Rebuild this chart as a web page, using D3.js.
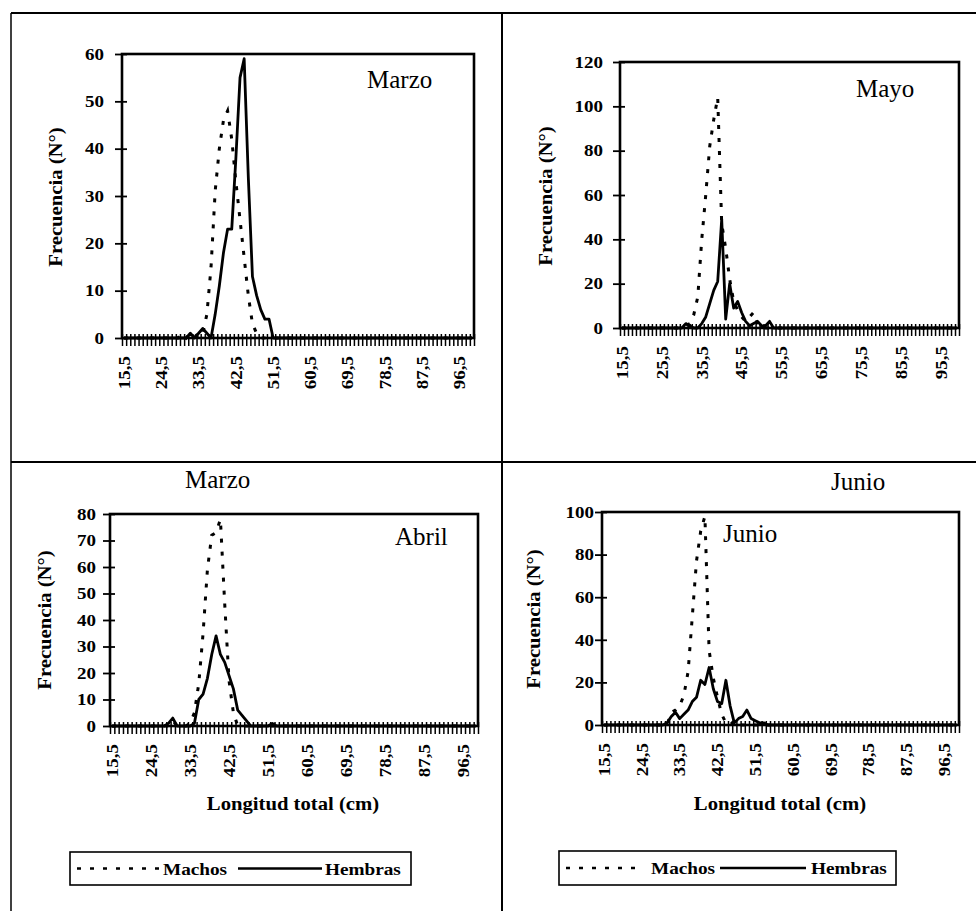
<!DOCTYPE html>
<html>
<head>
<meta charset="utf-8">
<script src="https://cdn.jsdelivr.net/npm/d3@7/dist/d3.min.js"></script>
<style>
  body { margin: 0; background: #fff; }
  svg { display: block; }
</style>
</head>
<body>
<svg id="chart" width="976" height="911"></svg>
<script>
// Length classes (cm), one category per centimetre: 15,5 ... 99,5
const lengths = d3.range(15.5, 100, 1);

// Tick labels shown on the length axis
const ticksEveryNine = [15.5, 24.5, 33.5, 42.5, 51.5, 60.5, 69.5, 78.5, 87.5, 96.5];
const ticksEveryTen = [15.5, 25.5, 35.5, 45.5, 55.5, 65.5, 75.5, 85.5, 95.5];

// Frequency (number of fish) per length class
const marzoMachos = [
  0,0,0,0,0,0,0,0,0,0,
  0,0,0,0,1,0,1,1,0,1,
  5,15,31,40,46,48,42,33,25,17,
  9,3,1,0,0,0,0,0,0,0,
  0,0,0,0,0,0,0,0,0,0,
  0,0,0,0,0,0,0,0,0,0,
  0,0,0,0,0,0,0,0,0,0,
  0,0,0,0,0,0,0,0,0,0,
  0,0,0,0,0
];
const marzoHembras = [
  0,0,0,0,0,0,0,0,0,0,
  0,0,0,0,0,0,1,0,1,2,
  1,0,5,11,18,23,23,38,55,59,
  34,13,9,6,4,4,0,0,0,0,
  0,0,0,0,0,0,0,0,0,0,
  0,0,0,0,0,0,0,0,0,0,
  0,0,0,0,0,0,0,0,0,0,
  0,0,0,0,0,0,0,0,0,0,
  0,0,0,0,0
];
const mayoMachos = [
  0,0,0,0,0,0,0,0,0,0,
  0,0,0,0,0,0,1,2,6,14,
  40,60,82,94,104,47,36,22,12,8,
  5,3,5,7,2,0,0,0,0,0,
  0,0,0,0,0,0,0,0,0,0,
  0,0,0,0,0,0,0,0,0,0,
  0,0,0,0,0,0,0,0,0,0,
  0,0,0,0,0,0,0,0,0,0,
  0,0,0,0,0
];
const mayoHembras = [
  0,0,0,0,0,0,0,0,0,0,
  0,0,0,0,0,0,2,1,0,0,
  2,5,11,17,21,49,4,20,9,12,
  7,3,1,2,3,1,1,3,0,0,
  0,0,0,0,0,0,0,0,0,0,
  0,0,0,0,0,0,0,0,0,0,
  0,0,0,0,0,0,0,0,0,0,
  0,0,0,0,0,0,0,0,0,0,
  0,0,0,0,0
];
const abrilMachos = [
  0,0,0,0,0,0,0,0,0,0,
  0,0,0,0,2,0,0,0,1,5,
  16,35,59,72,73,78,46,17,5,0,
  0,0,0,0,0,0,0,0,0,0,
  0,0,0,0,0,0,0,0,0,0,
  0,0,0,0,0,0,0,0,0,0,
  0,0,0,0,0,0,0,0,0,0,
  0,0,0,0,0,0,0,0,0,0,
  0,0,0,0,0
];
const abrilHembras = [
  0,0,0,0,0,0,0,0,0,0,
  0,0,0,1,3,0,0,0,0,1,
  10,12,18,27,34,27,24,19,14,6,
  4,2,0,0,0,0,0,1,0,0,
  0,0,0,0,0,0,0,0,0,0,
  0,0,0,0,0,0,0,0,0,0,
  0,0,0,0,0,0,0,0,0,0,
  0,0,0,0,0,0,0,0,0,0,
  0,0,0,0,0
];
const junioMachos = [
  0,0,0,0,0,0,0,0,0,0,
  0,0,0,0,0,0,6,7,9,14,
  25,51,77,91,98,35,22,13,5,1,
  0,2,0,0,0,0,0,0,0,0,
  0,0,0,0,0,0,0,0,0,0,
  0,0,0,0,0,0,0,0,0,0,
  0,0,0,0,0,0,0,0,0,0,
  0,0,0,0,0,0,0,0,0,0,
  0,0,0,0,0
];
const junioHembras = [
  0,0,0,0,0,0,0,0,0,0,
  0,0,0,0,0,1,4,6,3,5,
  7,11,13,21,19,27,17,11,10,21,
  9,1,3,4,7,3,2,1,1,0,
  0,0,0,0,0,0,0,0,0,0,
  0,0,0,0,0,0,0,0,0,0,
  0,0,0,0,0,0,0,0,0,0,
  0,0,0,0,0,0,0,0,0,0,
  0,0,0,0,0
];

const seriesNames = ["Machos", "Hembras"];
const yTitle = "Frecuencia (N°)";
const xTitle = "Longitud total (cm)";

const SERIF = "'Liberation Serif','Times New Roman',serif";
const S = 1.15;           // horizontal stretch of the bold serif lettering
const DOTS = "4,9";       // dotted pattern for the male series

const panels = [
  { machos: marzoMachos, hembras: marzoHembras, yMax: 60, yStep: 10, xTicks: ticksEveryNine,
    left: 122, right: 474, top: 54, bottom: 338, labelGap: 18, yTitleX: 62, yTitleY: 197,
    texts: [{ t: "Marzo", x: 367, y: 88 }], xTitle: false },
  { machos: mayoMachos, hembras: mayoHembras, yMax: 120, yStep: 20, xTicks: ticksEveryTen,
    left: 620, right: 959, top: 62, bottom: 328, labelGap: 17, yTitleX: 552, yTitleY: 196,
    texts: [{ t: "Mayo", x: 856, y: 97 }], xTitle: false },
  { machos: abrilMachos, hembras: abrilHembras, yMax: 80, yStep: 10, xTicks: ticksEveryNine,
    left: 110, right: 478, top: 514, bottom: 726, labelGap: 14, yTitleX: 51, yTitleY: 620,
    texts: [{ t: "Marzo", x: 185, y: 488 }, { t: "Abril", x: 395, y: 545 }], xTitle: true, xTitleX: 293,
    legend: { x: 70, y: 852, w: 341, h: 33, dot: [77, 160], solid: [238, 322], t1: 163, t2: 325 } },
  { machos: junioMachos, hembras: junioHembras, yMax: 100, yStep: 20, xTicks: ticksEveryNine,
    left: 602, right: 959, top: 512, bottom: 725, labelGap: 8, yTitleX: 540, yTitleY: 619,
    texts: [{ t: "Junio", x: 831, y: 490 }, { t: "Junio", x: 723, y: 542 }], xTitle: true, xTitleX: 780,
    legend: { x: 559, y: 851, w: 337, h: 34, dot: [566, 643], solid: [720, 806], t1: 651, t2: 811 } }
];

const svg = d3.select("#chart");

// Outer grid of the figure
const frame = svg.append("g").attr("stroke", "#000").attr("fill", "none");
frame.append("line").attr("x1", 11).attr("y1", 13).attr("x2", 976).attr("y2", 13).attr("stroke-width", 2);
frame.append("line").attr("x1", 11).attr("y1", 13).attr("x2", 11).attr("y2", 911).attr("stroke-width", 1.5);
frame.append("line").attr("x1", 502).attr("y1", 13).attr("x2", 502).attr("y2", 911).attr("stroke-width", 2);
frame.append("line").attr("x1", 11).attr("y1", 462).attr("x2", 976).attr("y2", 462).attr("stroke-width", 2);

const fmt = d => String(d).replace(".", ",");

function drawPanel(p) {
  const g = svg.append("g");
  const x = d3.scaleBand().domain(lengths).range([p.left, p.right]).padding(0);
  const xEdge = d3.scaleLinear().domain([0, lengths.length]).range([p.left, p.right]);
  const y = d3.scaleLinear().domain([0, p.yMax]).range([p.bottom, p.top]);
  const cx = v => x(v) + x.bandwidth() / 2;

  // category boundary ticks along the length axis
  const xt = g.append("g").attr("transform", `translate(0,${p.bottom})`)
    .call(d3.axisBottom(xEdge).tickValues(d3.range(lengths.length + 1)).tickFormat("")
      .tickSizeInner(8).tickSizeOuter(0));
  xt.select(".domain").remove();
  xt.selectAll(".tick line").attr("y1", -4).attr("stroke-width", 1.5);

  // rotated length labels
  const xl = g.append("g").attr("transform", `translate(0,${p.bottom})`)
    .call(d3.axisBottom(x).tickValues(p.xTicks).tickFormat(fmt).tickSize(0));
  xl.select(".domain").remove();
  xl.selectAll("text")
    .attr("x", 0).attr("y", 0).attr("dy", "0.35em")
    .attr("text-anchor", "end")
    .attr("transform", `translate(0,18) rotate(-90) scale(${S},1)`)
    .attr("font-family", SERIF).attr("font-weight", "bold").attr("font-size", 16.5).attr("fill", "#000");

  // frequency axis
  const ya = g.append("g").attr("transform", `translate(${p.left},0)`)
    .call(d3.axisLeft(y).tickValues(d3.range(0, p.yMax + 1, p.yStep)).tickSize(7).tickSizeOuter(0));
  ya.select(".domain").remove();
  ya.selectAll(".tick line").attr("x1", 5).attr("stroke-width", 1.8);
  ya.selectAll("text")
    .attr("x", -p.labelGap / S).attr("transform", `scale(${S},1)`)
    .attr("font-family", SERIF).attr("font-weight", "bold").attr("font-size", 16.5).attr("fill", "#000");

  // series
  const line = d3.line().x((d, i) => cx(lengths[i])).y(d => y(d));
  g.append("path").datum(p.machos).attr("d", line)
    .attr("fill", "none").attr("stroke", "#000").attr("stroke-width", 3)
    .attr("stroke-dasharray", DOTS);
  g.append("path").datum(p.hembras).attr("d", line)
    .attr("fill", "none").attr("stroke", "#000").attr("stroke-width", 2.8)
    .attr("stroke-linejoin", "round");

  // plot frame
  g.append("rect").attr("x", p.left).attr("y", p.top)
    .attr("width", p.right - p.left).attr("height", p.bottom - p.top)
    .attr("fill", "none").attr("stroke", "#000").attr("stroke-width", 2.6);

  // axis titles
  g.append("text").text(yTitle)
    .attr("transform", `translate(${p.yTitleX},${p.yTitleY}) rotate(-90) scale(${S},1)`)
    .attr("text-anchor", "middle")
    .attr("font-family", SERIF).attr("font-weight", "bold").attr("font-size", 18);
  if (p.xTitle) {
    g.append("text").text(xTitle)
      .attr("transform", `translate(${p.xTitleX},810) scale(${S},1)`)
      .attr("text-anchor", "middle")
      .attr("font-family", SERIF).attr("font-weight", "bold").attr("font-size", 18);
  }

  // month names
  p.texts.forEach(t => {
    g.append("text").text(t.t).attr("x", t.x).attr("y", t.y)
      .attr("font-family", SERIF).attr("font-size", 25);
  });

  // legend
  if (p.legend) {
    const L = p.legend;
    const lg = g.append("g");
    lg.append("rect").attr("x", L.x).attr("y", L.y).attr("width", L.w).attr("height", L.h)
      .attr("fill", "#fff").attr("stroke", "#000").attr("stroke-width", 1.6);
    const ly = L.y + L.h / 2;
    lg.append("line").attr("x1", L.dot[0]).attr("x2", L.dot[1]).attr("y1", ly).attr("y2", ly)
      .attr("stroke", "#000").attr("stroke-width", 2.6).attr("stroke-dasharray", "4,9");
    lg.append("line").attr("x1", L.solid[0]).attr("x2", L.solid[1]).attr("y1", ly).attr("y2", ly)
      .attr("stroke", "#000").attr("stroke-width", 2.6);
    [[seriesNames[0], L.t1], [seriesNames[1], L.t2]].forEach(([name, tx]) => {
      lg.append("text").text(name)
        .attr("transform", `translate(${tx},${ly + 6}) scale(1.1,1)`)
        .attr("font-family", SERIF).attr("font-weight", "bold").attr("font-size", 17.5);
    });
  }
}

panels.forEach(drawPanel);
</script>
</body>
</html>
